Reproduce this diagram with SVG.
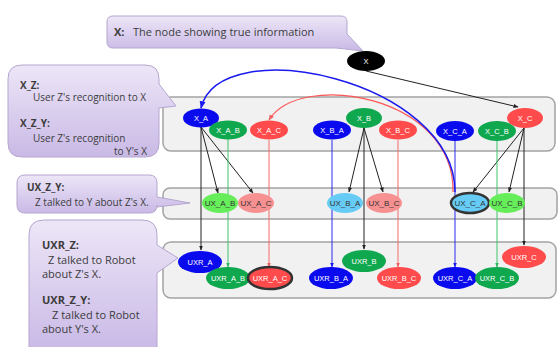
<svg xmlns="http://www.w3.org/2000/svg" width="558" height="347" viewBox="0 0 558 347">
<defs>
<linearGradient id="callg" x1="0" y1="0" x2="0" y2="1">
<stop offset="0" stop-color="#ede6f7"/>
<stop offset="1" stop-color="#c9b9e6"/>
</linearGradient>
<marker id="ak" viewBox="0 0 10 10" refX="9" refY="5" markerWidth="5" markerHeight="5" orient="auto"><path d="M0 1 L10 5 L0 9 Z" fill="#222"/></marker>
<marker id="ab" viewBox="0 0 10 10" refX="9" refY="5" markerWidth="5" markerHeight="5" orient="auto"><path d="M0 1 L10 5 L0 9 Z" fill="#1a1aee"/></marker>
<marker id="ar" viewBox="0 0 10 10" refX="9" refY="5" markerWidth="5" markerHeight="5" orient="auto"><path d="M0 1 L10 5 L0 9 Z" fill="#f06060"/></marker>
<marker id="ag" viewBox="0 0 10 10" refX="9" refY="5" markerWidth="5" markerHeight="5" orient="auto"><path d="M0 1 L10 5 L0 9 Z" fill="#30b860"/></marker>
</defs>
<style>
.panel{fill:#f1f1f1;stroke:#a3a3a3;stroke-width:1.5}
.call{fill:url(#callg);stroke:#b5a6d0;stroke-width:1}
.ct{font-family:"Open Sans","Liberation Sans",sans-serif;font-size:10px;fill:#3c3c3c}
.big{font-size:11px}
.cb{font-weight:bold}
.nt{font-family:"Liberation Sans",Arial,sans-serif;font-size:7.5px;text-anchor:middle;fill:#fff}
.nd{fill:#333;font-size:8px}
.blue{fill:#0a0aee}
.green{fill:#10a84f}
.red{fill:#ff4b4b}
.lgreen{fill:#66ee5a}
.pink{fill:#f79090}
.lblue{fill:#66ccf5}
.blk{fill:#000}
.hl{stroke:#333;stroke-width:2.5}
.ek{fill:none;stroke:#222;stroke-width:1;marker-end:url(#ak)}
.eb{fill:none;stroke:#2a2af0;stroke-width:1;marker-end:url(#ab)}
.er{fill:none;stroke:#f36a6a;stroke-width:1;marker-end:url(#ar)}
.eg{fill:none;stroke:#3cc46a;stroke-width:1;marker-end:url(#ag)}
.ebc{fill:none;stroke:#1a1aee;stroke-width:1.5;marker-end:url(#ab)}
.erc{fill:none;stroke:#f55;stroke-width:1.2;marker-end:url(#ar)}
</style>

<g id="panels">
<rect class="panel" x="163" y="97" width="392" height="54" rx="8"/>
<rect class="panel" x="163" y="188" width="394" height="31" rx="7"/>
<rect class="panel" x="163" y="242" width="393" height="56" rx="8"/>
</g>

<g id="connectors">
<path class="ek" d="M366 71 L518 107"/>
<path class="ek" d="M201 127 L218 193"/>
<path class="ek" d="M201 127 L253 193"/>
<path class="ek" d="M201 127 L201 250"/>
<path class="ek" d="M364 128 L349 192"/>
<path class="ek" d="M364 128 L383 192"/>
<path class="ek" d="M364 128 L364 249"/>
<path class="ek" d="M524 128 L473 192"/>
<path class="ek" d="M524 128 L509 192"/>
<path class="ek" d="M524 128 L524 245"/>
<path class="eg" d="M228 139 L228 267"/>
<path class="er" d="M269 140 L269 267"/>
<path class="eb" d="M332 140 L332 267"/>
<path class="er" d="M398 140 L398 267"/>
<path class="eb" d="M455 141 L455 267"/>
<path class="eg" d="M497 141 L497 267"/>
<path class="erc" d="M453 192 C455 95, 300 70, 269 120"/>
<path class="ebc" d="M455 192 C455 80, 220 30, 201 108"/>
</g>

<g id="callout-x">
<path class="call" d="M113 16 H341 Q347 16 347 22 V34 L363 51 L336 48 H113 Q107 48 107 42 V22 Q107 16 113 16 Z"/>
<text class="ct big" x="114" y="36"><tspan class="cb">X:</tspan><tspan x="133">The node showing true information</tspan></text>
</g>
<g id="callout-xz">
<path class="call" d="M22 65 H145 Q159 65 159 79 V84 L176 106 L159 108 V143 Q159 157 145 157 H22 Q8 157 8 143 V79 Q8 65 22 65 Z"/>
<text class="ct cb" x="20" y="89">X_Z:</text>
<text class="ct" x="33" y="101">User Z's recognition to X</text>
<text class="ct cb" x="20" y="127">X_Z_Y:</text>
<text class="ct" x="33" y="142">User Z's recognition</text>
<text class="ct" x="147" y="155" text-anchor="end">to Y's X</text>
</g>
<g id="callout-uxzy">
<path class="call" d="M25 175 H149 Q157 175 157 183 V197 L190 203 L157 207 V205 Q157 213 149 213 H25 Q17 213 17 205 V183 Q17 175 25 175 Z"/>
<text class="ct cb" x="27" y="191">UX_Z_Y:</text>
<text class="ct" x="35" y="206">Z talked to Y about Z's X.</text>
</g>
<g id="callout-uxrz">
<path class="call" d="M44 220 H142 Q157 220 157 235 V245 L178 258 L157 273 V352 H29 V235 Q29 220 44 220 Z"/>
<text class="ct big cb" x="42" y="249">UXR_Z:</text>
<text class="ct big" x="48" y="264">Z talked to Robot</text>
<text class="ct big" x="42" y="278">about Z's X.</text>
<text class="ct big cb" x="42" y="304">UXR_Z_Y:</text>
<text class="ct big" x="52" y="319">Z talked to Robot</text>
<text class="ct big" x="42" y="333">about Y's X.</text>
</g>

<g id="X"><ellipse class="blk" cx="366" cy="61" rx="19" ry="10"/><text class="nt" x="366" y="64">X</text></g>

<g id="X_A"><ellipse class="blue" cx="201" cy="118" rx="18" ry="9.5"/><text class="nt" x="201" y="121">X_A</text></g>
<g id="X_A_B"><ellipse class="green" cx="228" cy="130" rx="19" ry="9.5"/><text class="nt" x="228" y="133">X_A_B</text></g>
<g id="X_A_C"><ellipse class="red" cx="269" cy="130" rx="19" ry="9.5"/><text class="nt" x="269" y="133">X_A_C</text></g>
<g id="X_B_A"><ellipse class="blue" cx="332" cy="130" rx="19" ry="9.5"/><text class="nt" x="332" y="133">X_B_A</text></g>
<g id="X_B"><ellipse class="green" cx="364" cy="118" rx="18" ry="10"/><text class="nt" x="364" y="121">X_B</text></g>
<g id="X_B_C"><ellipse class="red" cx="398" cy="130" rx="19" ry="9.5"/><text class="nt" x="398" y="133">X_B_C</text></g>
<g id="X_C_A"><ellipse class="blue" cx="455" cy="131" rx="19" ry="10"/><text class="nt" x="455" y="134">X_C_A</text></g>
<g id="X_C_B"><ellipse class="green" cx="497" cy="131" rx="19" ry="10"/><text class="nt" x="497" y="134">X_C_B</text></g>
<g id="X_C"><ellipse class="red" cx="525" cy="118" rx="18" ry="10"/><text class="nt" x="525" y="121">X_C</text></g>

<g id="UX_A_B"><ellipse class="lgreen" cx="220" cy="203" rx="18" ry="10"/><text class="nt nd" x="220" y="206">UX_A_B</text></g>
<g id="UX_A_C"><ellipse class="pink" cx="256" cy="203" rx="18" ry="10"/><text class="nt nd" x="256" y="206">UX_A_C</text></g>
<g id="UX_B_A"><ellipse class="lblue" cx="345" cy="203" rx="18" ry="10"/><text class="nt nd" x="345" y="206">UX_B_A</text></g>
<g id="UX_B_C"><ellipse class="pink" cx="384" cy="203" rx="18" ry="10"/><text class="nt nd" x="384" y="206">UX_B_C</text></g>
<g id="UX_C_A"><ellipse class="lblue hl" cx="470" cy="203" rx="19" ry="10"/><text class="nt nd" x="470" y="206">UX_C_A</text></g>
<g id="UX_C_B"><ellipse class="lgreen" cx="507" cy="203" rx="18" ry="10"/><text class="nt nd" x="507" y="206">UX_C_B</text></g>

<g id="UXR_A"><ellipse class="blue" cx="200" cy="262" rx="22" ry="11"/><text class="nt" x="200" y="265">UXR_A</text></g>
<g id="UXR_A_B"><ellipse class="green" cx="228" cy="278" rx="22" ry="11"/><text class="nt" x="228" y="281">UXR_A_B</text></g>
<g id="UXR_A_C"><ellipse class="red hl" cx="270" cy="278" rx="22" ry="11"/><text class="nt" x="270" y="281">UXR_A_C</text></g>
<g id="UXR_B_A"><ellipse class="blue" cx="331" cy="278" rx="22" ry="11"/><text class="nt" x="331" y="281">UXR_B_A</text></g>
<g id="UXR_B"><ellipse class="green" cx="364" cy="261" rx="22" ry="11"/><text class="nt" x="364" y="264">UXR_B</text></g>
<g id="UXR_B_C"><ellipse class="red" cx="399" cy="278" rx="22" ry="11"/><text class="nt" x="399" y="281">UXR_B_C</text></g>
<g id="UXR_C_A"><ellipse class="blue" cx="455" cy="278" rx="22" ry="11"/><text class="nt" x="455" y="281">UXR_C_A</text></g>
<g id="UXR_C_B"><ellipse class="green" cx="497" cy="278" rx="22" ry="11"/><text class="nt" x="497" y="281">UXR_C_B</text></g>
<g id="UXR_C"><ellipse class="red" cx="524" cy="257" rx="22" ry="11"/><text class="nt" x="524" y="260">UXR_C</text></g>
</svg>
